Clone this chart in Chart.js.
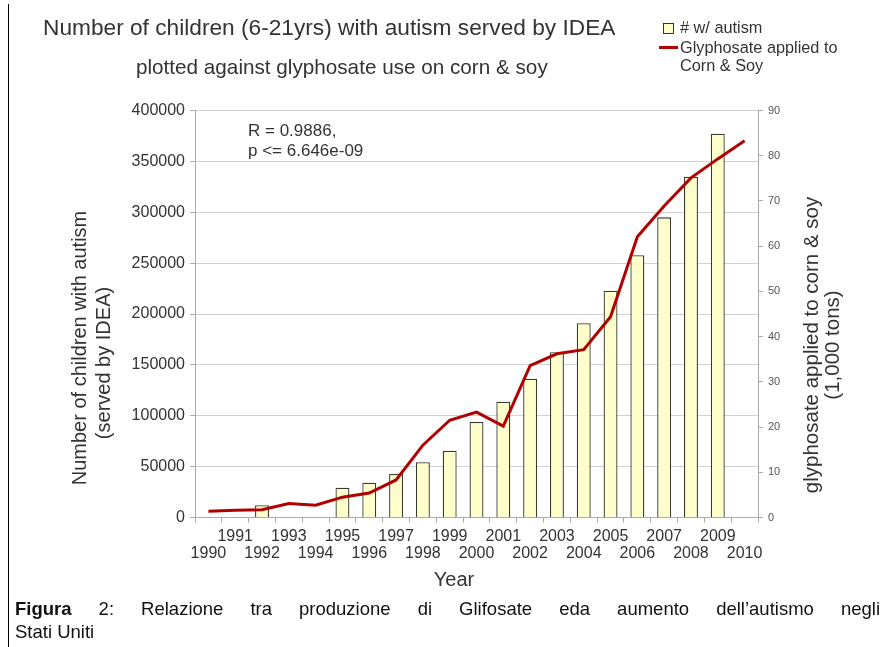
<!DOCTYPE html>
<html>
<head>
<meta charset="utf-8">
<script src="https://cdn.jsdelivr.net/npm/chart.js@4.4.1/dist/chart.umd.min.js"></script>
<style>
    body { margin: 0; background: #fff; font-family: "Liberation Sans", Arial, sans-serif; }
    #page { position: relative; width: 887px; height: 647px; overflow: hidden; }
    #chart { position: absolute; left: 0; top: 0; }
    #leftBorder { position: absolute; left: 8px; top: 4px; width: 1px; height: 643px; background: #000; }
    #title { position: absolute; left: 43px; top: 14px; font-size: 22.7px; line-height: 27px; color: #333; white-space: nowrap; }
    #subtitle { position: absolute; left: 136px; top: 55px; font-size: 20.7px; line-height: 24px; color: #333; white-space: nowrap; }
    #legend { position: absolute; left: 657px; top: 18px; font-size: 16.3px; line-height: 18px; color: #333; }
    .legendItem { position: relative; padding-left: 23px; max-width: 172px; margin-bottom: 2px; }
    .swatchBox { position: absolute; left: 6px; top: 5px; width: 9px; height: 9px; border: 1px solid #333; }
    .swatchLine { position: absolute; left: 2px; top: 8px; width: 19px; height: 3px; }
    #caption { position: absolute; left: 15px; top: 597px; width: 865px; font-size: 18.5px; line-height: 23px; color: #111; }
    .capLine1 { text-align: justify; text-align-last: justify; }
</style>
</head>
<body>
<div id="page">
    <canvas id="chart" width="887" height="647"></canvas>
    <div id="leftBorder"></div>
    <div id="title">Number of children (6-21yrs) with autism served by IDEA</div>
    <div id="subtitle">plotted against glyphosate use on corn &amp; soy</div>
    <div id="legend"></div>
    <div id="caption">
        <div class="capLine1"><b>Figura</b> 2: Relazione tra produzione di Glifosate eda aumento dell’autismo negli</div>
        <div>Stati Uniti</div>
    </div>
</div>
<script>
// anni (asse x)
const years = [1990, 1991, 1992, 1993, 1994, 1995, 1996, 1997, 1998, 1999, 2000,
               2001, 2002, 2003, 2004, 2005, 2006, 2007, 2008, 2009, 2010];

// bambini con autismo serviti da IDEA (barre, asse sinistro)
const autismCounts = [null, null, 12000, null, null, 29300, 34200, 42800, 54300, 65700, 93900,
                      113800, 136400, 162400, 190900, 222900, 257700, 295000, 335000, 377200, null];

// glifosato su mais e soia, 1.000 tonnellate (linea, asse destro)
const glyphosateTons = [1.4, 1.6, 1.7, 3.1, 2.7, 4.5, 5.4, 8.3, 16.0, 21.5, 23.3,
                        20.2, 33.6, 36.2, 37.1, 44.4, 62.1, 68.9, 75.1, 79.3, 83.3];

const leftAxisMax = 400000;
const leftAxisStep = 50000;
const rightAxisMax = 90;
const rightAxisStep = 10;

const statLines = ["R = 0.9886,", "p <= 6.646e-09"];
const leftTitle = ["Number of children with autism", "(served by IDEA)"];
const rightTitle = ["glyphosate applied to corn & soy", "(1,000 tons)"];
const xTitle = "Year";

const FONT = '"Liberation Sans", Arial, sans-serif';
const textColor = "#333";

// testi extra: annotazione e titoli degli assi
const extraText = {
    id: "extraText",
    afterDraw(chart) {
        const ctx = chart.ctx;
        const area = chart.chartArea;
        ctx.save();
        ctx.fillStyle = textColor;
        ctx.textBaseline = "middle";

        ctx.font = "17px " + FONT;
        ctx.textAlign = "left";
        statLines.forEach((t, i) => ctx.fillText(t, area.left + 53, area.top + 21 + i * 20));

        ctx.textAlign = "center";
        ctx.font = "20px " + FONT;
        ctx.fillText(xTitle, 454, 580);

        // titolo asse sinistro (ruotato)
        const leftY = [348, 363];
        leftTitle.forEach((t, i) => {
            ctx.save();
            ctx.translate(80 + i * 24, leftY[i]);
            ctx.rotate(-Math.PI / 2);
            ctx.fillText(t, 0, 0);
            ctx.restore();
        });

        // titolo asse destro (ruotato)
        ctx.font = "20.5px " + FONT;
        rightTitle.forEach((t, i) => {
            ctx.save();
            ctx.translate(812 + i * 21, 345);
            ctx.rotate(-Math.PI / 2);
            ctx.fillText(t, 0, 0);
            ctx.restore();
        });
        ctx.restore();
    }
};

const ctx = document.getElementById("chart").getContext("2d");
const chart = new Chart(ctx, {
    type: "bar",
    data: {
        labels: years,
        datasets: [
            {
                type: "line",
                label: "Glyphosate applied to Corn & Soy",
                data: glyphosateTons,
                yAxisID: "y1",
                borderColor: "#b00000",
                backgroundColor: "#b00000",
                borderWidth: 3,
                pointRadius: 0,
                tension: 0,
                order: 0
            },
            {
                type: "bar",
                label: "# w/ autism",
                data: autismCounts,
                yAxisID: "y",
                backgroundColor: "#ffffcc",
                borderColor: "#3a3a30",
                borderWidth: 1.3,
                categoryPercentage: 1,
                barPercentage: 0.52,
                order: 1
            }
        ]
    },
    options: {
        responsive: false,
        animation: false,
        layout: { padding: { top: 110.5, left: 0, right: 0, bottom: 0 } },
        plugins: {
            legend: { display: false },
            tooltip: { enabled: false }
        },
        scales: {
            x: {
                offset: true,
                grid: { display: true, drawOnChartArea: false, offset: true, tickLength: 5, color: "#aaa" },
                border: { color: "#aaa" },
                ticks: {
                    autoSkip: false,
                    maxRotation: 0,
                    padding: 6,
                    color: textColor,
                    font: { family: FONT, size: 16, lineHeight: 1.05 },
                    callback: function (value, index) {
                        const y = String(years[index]);
                        return index % 2 === 1 ? [y, ""] : ["", y];
                    }
                },
                afterFit: function (scale) { scale.height = 129.5; }
            },
            y: {
                position: "left",
                min: 0,
                max: leftAxisMax,
                grid: { color: "#d2d2d2", tickLength: 5, tickColor: "#aaa" },
                border: { color: "#aaa" },
                ticks: {
                    stepSize: leftAxisStep,
                    padding: 5,
                    color: textColor,
                    font: { family: FONT, size: 16 },
                    callback: function (value) { return String(value); }
                },
                afterFit: function (scale) { scale.width = 195; }
            },
            y1: {
                position: "right",
                min: 0,
                max: rightAxisMax,
                grid: { drawOnChartArea: false, tickLength: 5, color: "#aaa" },
                border: { color: "#aaa" },
                ticks: {
                    stepSize: rightAxisStep,
                    padding: 5,
                    color: "#555",
                    font: { family: FONT, size: 11 },
                    callback: function (value) { return String(value); }
                },
                afterFit: function (scale) { scale.width = 129; }
            }
        }
    },
    plugins: [extraText]
});

// legenda HTML costruita dai dataset
const legendEl = document.getElementById("legend");
[chart.data.datasets[1], chart.data.datasets[0]].forEach(function (ds) {
    const item = document.createElement("div");
    item.className = "legendItem";
    const sw = document.createElement("span");
    if (ds.type === "bar") {
        sw.className = "swatchBox";
        sw.style.background = ds.backgroundColor;
    } else {
        sw.className = "swatchLine";
        sw.style.background = ds.borderColor;
    }
    item.appendChild(sw);
    item.appendChild(document.createTextNode(ds.label));
    legendEl.appendChild(item);
});
</script>
</body>
</html>
